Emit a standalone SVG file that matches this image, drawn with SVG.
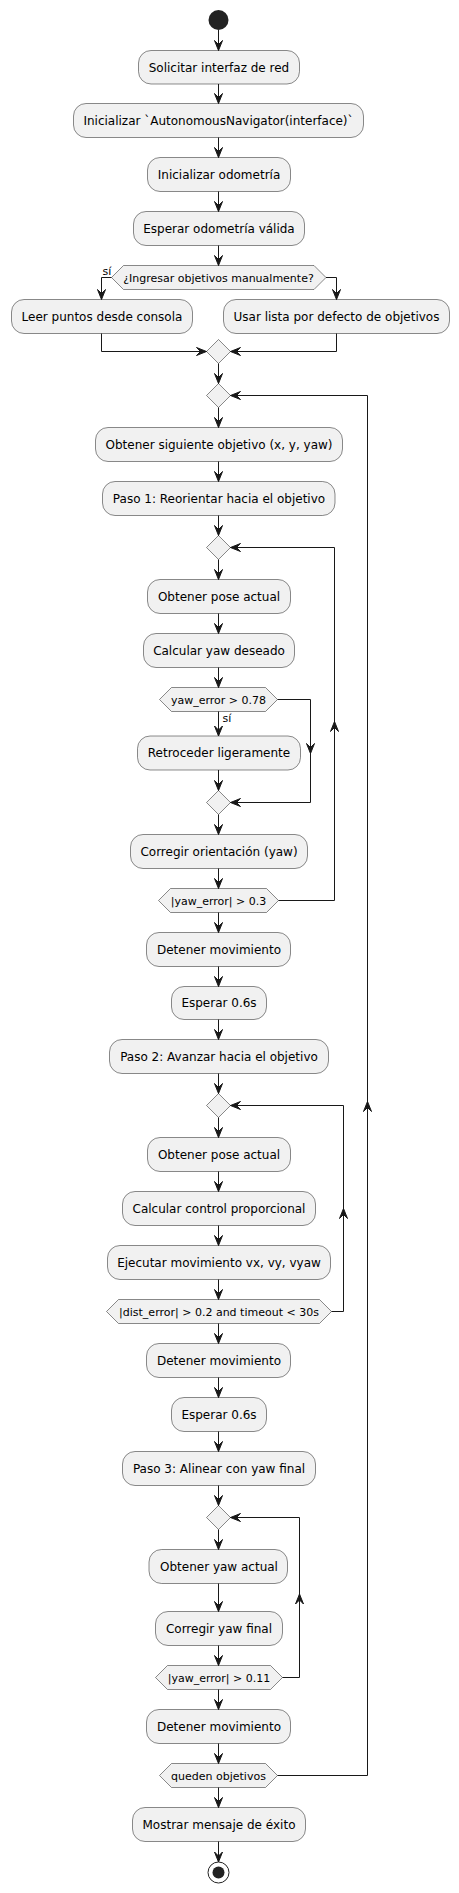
<svg xmlns="http://www.w3.org/2000/svg" width="459" height="1893" viewBox="0 0 459 1893">
<defs>
<style>
.b{fill:#F1F1F1;stroke:#181818;stroke-width:0.5}
.t{font-family:"DejaVu Sans",sans-serif;font-size:12px;fill:#000;text-anchor:middle}
.h{font-family:"DejaVu Sans",sans-serif;font-size:11px;fill:#000;text-anchor:middle}
.l{font-family:"DejaVu Sans",sans-serif;font-size:11px;fill:#000}
.c{fill:none;stroke:#181818;stroke-width:1}
.a{fill:#181818;stroke:#181818;stroke-width:1}
</style>
</defs>
<rect width="459" height="1893" fill="#FFFFFF"/>
<g id="start"><circle cx="218.5" cy="20" r="10" fill="#222222"/></g>
<g id="n1"><rect class="b" x="138.5" y="50.5" width="161" height="33.5" rx="12.5"/><text class="t" x="219" y="71.5">Solicitar interfaz de red</text></g>
<g id="n2"><rect class="b" x="73.5" y="103.5" width="290" height="34" rx="12.5"/><text class="t" x="218.5" y="124.5">Inicializar `AutonomousNavigator(interface)`</text></g>
<g id="n3"><rect class="b" x="147.5" y="157.5" width="143" height="34" rx="12.5"/><text class="t" x="219" y="178.5">Inicializar odometría</text></g>
<g id="n4"><rect class="b" x="133.5" y="211.5" width="171" height="34" rx="12.5"/><text class="t" x="219" y="232.5">Esperar odometría válida</text></g>
<g id="d1"><polygon class="b" points="111.5,277.5 123.5,265.5 314,265.5 326,277.5 314,289.5 123.5,289.5"/><text class="h" x="218.5" y="281.5">¿Ingresar objetivos manualmente?</text></g>
<g id="n5l"><rect class="b" x="11.5" y="299.5" width="181" height="34" rx="12.5"/><text class="t" x="102" y="320.5">Leer puntos desde consola</text></g>
<g id="n5r"><rect class="b" x="223.5" y="299.5" width="226" height="34" rx="12.5"/><text class="t" x="336.5" y="320.5">Usar lista por defecto de objetivos</text></g>
<g id="m1"><polygon class="b" points="218.5,339.5 230.5,351.5 218.5,363.5 206.5,351.5"/></g>
<g id="m2"><polygon class="b" points="218.5,383.5 230.5,395.5 218.5,407.5 206.5,395.5"/></g>
<g id="n6"><rect class="b" x="95.5" y="427.5" width="247" height="34" rx="12.5"/><text class="t" x="219" y="448.5">Obtener siguiente objetivo (x, y, yaw)</text></g>
<g id="n7"><rect class="b" x="102.5" y="481.5" width="232.5" height="34" rx="12.5"/><text class="t" x="219" y="502.5">Paso 1: Reorientar hacia el objetivo</text></g>
<g id="m3"><polygon class="b" points="218.5,535.5 230.5,547.5 218.5,559.5 206.5,547.5"/></g>
<g id="n8"><rect class="b" x="147.5" y="579.5" width="143" height="34" rx="12.5"/><text class="t" x="219" y="600.5">Obtener pose actual</text></g>
<g id="n9"><rect class="b" x="143.5" y="633.5" width="151" height="34" rx="12.5"/><text class="t" x="219" y="654.5">Calcular yaw deseado</text></g>
<g id="d2"><polygon class="b" points="159.5,699.5 171.5,687.5 265.5,687.5 277.5,699.5 265.5,711.5 171.5,711.5"/><text class="h" x="218.5" y="703.5">yaw_error &gt; 0.78</text></g>
<g id="n10"><rect class="b" x="137.5" y="736" width="163" height="34" rx="12.5"/><text class="t" x="219" y="757">Retroceder ligeramente</text></g>
<g id="m4"><polygon class="b" points="218.5,790.5 230.5,802.5 218.5,814.5 206.5,802.5"/></g>
<g id="n11"><rect class="b" x="130.5" y="834.5" width="177" height="34" rx="12.5"/><text class="t" x="219" y="855.5">Corregir orientación (yaw)</text></g>
<g id="d3"><polygon class="b" points="158.5,900.5 170.5,888.5 266.5,888.5 278.5,900.5 266.5,912.5 170.5,912.5"/><text class="h" x="218.5" y="904.5">|yaw_error| &gt; 0.3</text></g>
<g id="n12"><rect class="b" x="146.5" y="932.5" width="144" height="34" rx="12.5"/><text class="t" x="219" y="953.5">Detener movimiento</text></g>
<g id="n13"><rect class="b" x="171.5" y="986.5" width="95" height="33" rx="12.5"/><text class="t" x="219" y="1007">Esperar 0.6s</text></g>
<g id="n14"><rect class="b" x="109.5" y="1039.5" width="219" height="34" rx="12.5"/><text class="t" x="219" y="1060.5">Paso 2: Avanzar hacia el objetivo</text></g>
<g id="m5"><polygon class="b" points="218.5,1093.5 230.5,1105.5 218.5,1117.5 206.5,1105.5"/></g>
<g id="n15"><rect class="b" x="147.5" y="1137.5" width="143" height="34" rx="12.5"/><text class="t" x="219" y="1158.5">Obtener pose actual</text></g>
<g id="n16"><rect class="b" x="122.5" y="1191.5" width="193" height="34" rx="12.5"/><text class="t" x="219" y="1212.5">Calcular control proporcional</text></g>
<g id="n17"><rect class="b" x="107.5" y="1245.5" width="223" height="34" rx="12.5"/><text class="t" x="219" y="1266.5">Ejecutar movimiento vx, vy, vyaw</text></g>
<g id="d4"><polygon class="b" points="106.5,1311.5 118.5,1299.5 319.5,1299.5 331.5,1311.5 319.5,1323.5 118.5,1323.5"/><text class="h" x="219" y="1315.5">|dist_error| &gt; 0.2 and timeout &lt; 30s</text></g>
<g id="n18"><rect class="b" x="146.5" y="1343.5" width="144" height="34" rx="12.5"/><text class="t" x="219" y="1364.5">Detener movimiento</text></g>
<g id="n19"><rect class="b" x="171.5" y="1397.5" width="95" height="34" rx="12.5"/><text class="t" x="219" y="1418.5">Esperar 0.6s</text></g>
<g id="n20"><rect class="b" x="122.5" y="1451.5" width="193" height="34" rx="12.5"/><text class="t" x="219" y="1472.5">Paso 3: Alinear con yaw final</text></g>
<g id="m6"><polygon class="b" points="218.5,1505.5 230.5,1517.5 218.5,1529.5 206.5,1517.5"/></g>
<g id="n21"><rect class="b" x="149" y="1549.5" width="138.5" height="34" rx="12.5"/><text class="t" x="219" y="1570.5">Obtener yaw actual</text></g>
<g id="n22"><rect class="b" x="155.5" y="1611.5" width="127" height="34" rx="12.5"/><text class="t" x="219" y="1632.5">Corregir yaw final</text></g>
<g id="d5"><polygon class="b" points="155.5,1677.5 167.5,1665.5 270.5,1665.5 282.5,1677.5 270.5,1689.5 167.5,1689.5"/><text class="h" x="219" y="1681.5">|yaw_error| &gt; 0.11</text></g>
<g id="n23"><rect class="b" x="146.5" y="1709.5" width="144" height="34" rx="12.5"/><text class="t" x="219" y="1730.5">Detener movimiento</text></g>
<g id="d6"><polygon class="b" points="159.5,1775.5 171.5,1763.5 265.5,1763.5 277.5,1775.5 265.5,1787.5 171.5,1787.5"/><text class="h" x="218.5" y="1779.5">queden objetivos</text></g>
<g id="n24"><rect class="b" x="132.5" y="1807.5" width="173" height="34" rx="12.5"/><text class="t" x="219" y="1828.5">Mostrar mensaje de éxito</text></g>
<g id="end"><circle cx="218.5" cy="1872.5" r="10.5" fill="none" stroke="#222222" stroke-width="1"/><circle cx="218.5" cy="1872.5" r="6" fill="#222222"/></g>
<g id="connectors">
<path class="c" d="M218.5,30 V50.5 M218.5,84 V103.5 M218.5,137.5 V157.5 M218.5,191.5 V211.5 M218.5,245.5 V265.5"/>
<path class="c" d="M111.5,277.5 H101.5 V299.5 M326,277.5 H336.5 V299.5"/>
<path class="c" d="M101.5,333.5 V351.5 H206.5 M336.5,333.5 V351.5 H230.5"/>
<path class="c" d="M218.5,363.5 V383.5 M218.5,407.5 V427.5 M218.5,461.5 V481.5 M218.5,515.5 V535.5 M218.5,559.5 V579.5 M218.5,613.5 V633.5 M218.5,667.5 V687.5 M218.5,711.5 V736 M218.5,770 V790.5 M218.5,814.5 V834.5 M218.5,868.5 V888.5 M218.5,912.5 V932.5 M218.5,966.5 V986.5 M218.5,1019.5 V1039.5 M218.5,1073.5 V1093.5 M218.5,1117.5 V1137.5 M218.5,1171.5 V1191.5 M218.5,1225.5 V1245.5 M218.5,1279.5 V1299.5 M218.5,1323.5 V1343.5 M218.5,1377.5 V1397.5 M218.5,1431.5 V1451.5 M218.5,1485.5 V1505.5 M218.5,1529.5 V1549.5 M218.5,1583.5 V1611.5 M218.5,1645.5 V1665.5 M218.5,1689.5 V1709.5 M218.5,1743.5 V1763.5 M218.5,1787.5 V1807.5 M218.5,1841.5 V1862"/>
<path class="c" d="M277.5,699.5 H310.5 V802.5 H230.5"/>
<path class="c" d="M278.5,900.5 H334.5 V547.5 H230.5"/>
<path class="c" d="M331.5,1311.5 H343.5 V1105.5 H230.5"/>
<path class="c" d="M282.5,1677.5 H299.5 V1517.5 H230.5"/>
<path class="c" d="M277.5,1775.5 H367.5 V395.5 H230.5"/>
<text class="l" x="102.5" y="274.5">sí</text>
<text class="l" x="222.5" y="721.5">sí</text>
<g class="a">
<polygon points="214.5,40.5 218.5,50.5 222.5,40.5 218.5,44.5"/>
<polygon points="214.5,93.5 218.5,103.5 222.5,93.5 218.5,97.5"/>
<polygon points="214.5,147.5 218.5,157.5 222.5,147.5 218.5,151.5"/>
<polygon points="214.5,201.5 218.5,211.5 222.5,201.5 218.5,205.5"/>
<polygon points="214.5,255.5 218.5,265.5 222.5,255.5 218.5,259.5"/>
<polygon points="97.5,289.5 101.5,299.5 105.5,289.5 101.5,293.5"/>
<polygon points="332.5,289.5 336.5,299.5 340.5,289.5 336.5,293.5"/>
<polygon points="196.5,347.5 206.5,351.5 196.5,355.5 200.5,351.5"/>
<polygon points="240.5,347.5 230.5,351.5 240.5,355.5 236.5,351.5"/>
<polygon points="214.5,373.5 218.5,383.5 222.5,373.5 218.5,377.5"/>
<polygon points="240.5,391.5 230.5,395.5 240.5,399.5 236.5,395.5"/>
<polygon points="214.5,417.5 218.5,427.5 222.5,417.5 218.5,421.5"/>
<polygon points="214.5,471.5 218.5,481.5 222.5,471.5 218.5,475.5"/>
<polygon points="214.5,525.5 218.5,535.5 222.5,525.5 218.5,529.5"/>
<polygon points="240.5,543.5 230.5,547.5 240.5,551.5 236.5,547.5"/>
<polygon points="214.5,569.5 218.5,579.5 222.5,569.5 218.5,573.5"/>
<polygon points="214.5,623.5 218.5,633.5 222.5,623.5 218.5,627.5"/>
<polygon points="214.5,677.5 218.5,687.5 222.5,677.5 218.5,681.5"/>
<polygon points="214.5,726 218.5,736 222.5,726 218.5,730"/>
<polygon points="306.5,743.5 310.5,753.5 314.5,743.5 310.5,747.5"/>
<polygon points="330.5,731.5 334.5,721.5 338.5,731.5 334.5,727.5"/>
<polygon points="214.5,780.5 218.5,790.5 222.5,780.5 218.5,784.5"/>
<polygon points="240.5,798.5 230.5,802.5 240.5,806.5 236.5,802.5"/>
<polygon points="214.5,824.5 218.5,834.5 222.5,824.5 218.5,828.5"/>
<polygon points="214.5,878.5 218.5,888.5 222.5,878.5 218.5,882.5"/>
<polygon points="214.5,922.5 218.5,932.5 222.5,922.5 218.5,926.5"/>
<polygon points="214.5,976.5 218.5,986.5 222.5,976.5 218.5,980.5"/>
<polygon points="214.5,1029.5 218.5,1039.5 222.5,1029.5 218.5,1033.5"/>
<polygon points="214.5,1083.5 218.5,1093.5 222.5,1083.5 218.5,1087.5"/>
<polygon points="240.5,1101.5 230.5,1105.5 240.5,1109.5 236.5,1105.5"/>
<polygon points="363.5,1111.5 367.5,1101.5 371.5,1111.5 367.5,1107.5"/>
<polygon points="214.5,1127.5 218.5,1137.5 222.5,1127.5 218.5,1131.5"/>
<polygon points="214.5,1181.5 218.5,1191.5 222.5,1181.5 218.5,1185.5"/>
<polygon points="339.5,1218.5 343.5,1208.5 347.5,1218.5 343.5,1214.5"/>
<polygon points="214.5,1235.5 218.5,1245.5 222.5,1235.5 218.5,1239.5"/>
<polygon points="214.5,1289.5 218.5,1299.5 222.5,1289.5 218.5,1293.5"/>
<polygon points="214.5,1333.5 218.5,1343.5 222.5,1333.5 218.5,1337.5"/>
<polygon points="214.5,1387.5 218.5,1397.5 222.5,1387.5 218.5,1391.5"/>
<polygon points="214.5,1441.5 218.5,1451.5 222.5,1441.5 218.5,1445.5"/>
<polygon points="214.5,1495.5 218.5,1505.5 222.5,1495.5 218.5,1499.5"/>
<polygon points="240.5,1513.5 230.5,1517.5 240.5,1521.5 236.5,1517.5"/>
<polygon points="214.5,1539.5 218.5,1549.5 222.5,1539.5 218.5,1543.5"/>
<polygon points="214.5,1601.5 218.5,1611.5 222.5,1601.5 218.5,1605.5"/>
<polygon points="295.5,1604 299.5,1594 303.5,1604 299.5,1600"/>
<polygon points="214.5,1655.5 218.5,1665.5 222.5,1655.5 218.5,1659.5"/>
<polygon points="214.5,1699.5 218.5,1709.5 222.5,1699.5 218.5,1703.5"/>
<polygon points="214.5,1753.5 218.5,1763.5 222.5,1753.5 218.5,1757.5"/>
<polygon points="214.5,1797.5 218.5,1807.5 222.5,1797.5 218.5,1801.5"/>
<polygon points="214.5,1852 218.5,1862 222.5,1852 218.5,1856"/>
</g>
</g>
</svg>
